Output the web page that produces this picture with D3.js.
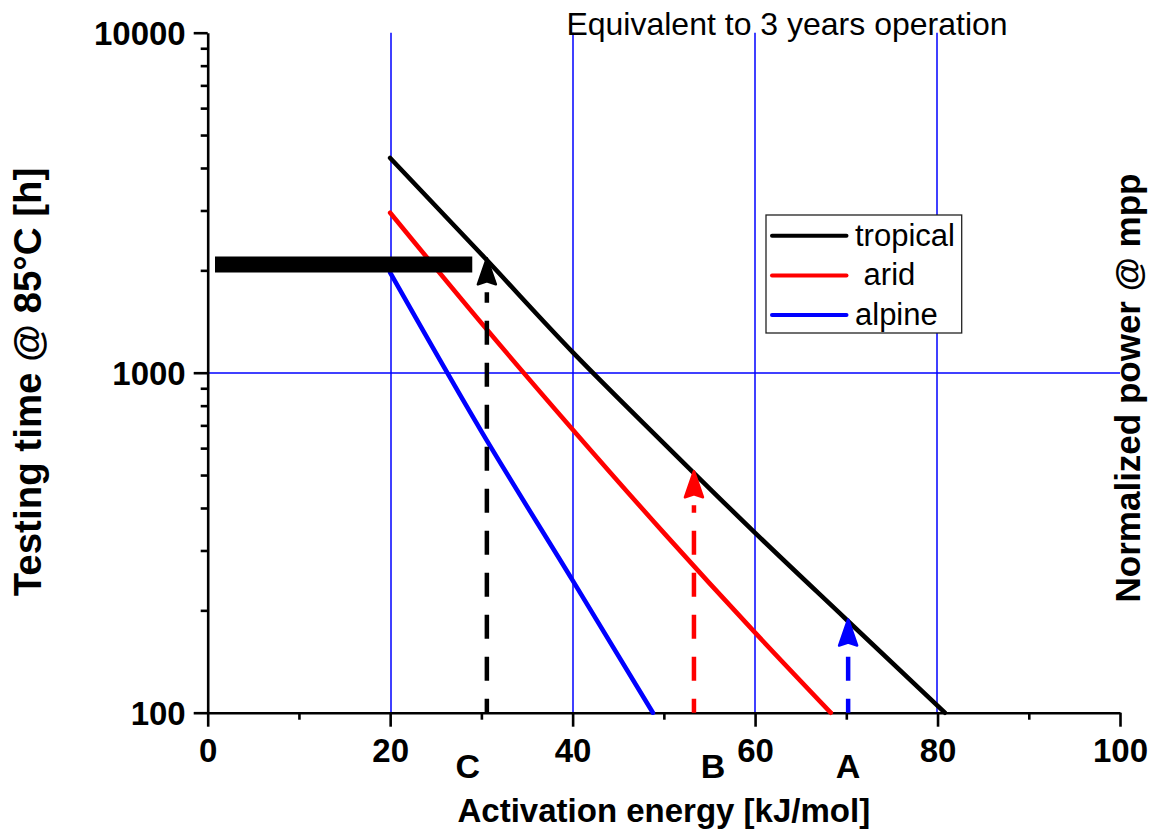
<!DOCTYPE html>
<html><head><meta charset="utf-8">
<script src="https://cdn.jsdelivr.net/npm/d3@7"></script>
<style>body{margin:0;background:#fff}svg{display:block}text{font-family:Arial,"Liberation Sans",sans-serif}</style>
</head><body><svg id="c" width="1151" height="832"></svg>
<script>
// ---- data ----
const tropicalE = [20, 30, 40, 50, 60, 70, 80.8];
const tropicalT = [4280, 2230, 1150, 620, 338, 188, 100];
const aridE = [20, 30, 40, 50, 60, 68.3];
const aridT = [2955, 1400, 681, 338, 172, 100];
const alpineE = [20, 30, 40, 48.8];
const alpineT = [1968, 672, 245, 100];
const seriesNames = ["tropical", " arid", "alpine"];
const seriesColors = ["#000000", "#ff0000", "#0000ff"];
const arrowE = [30.6, 53.3, 70.2];
const arrowT = [2170, 513, 188];
const arrowLabels = ["C", "B", "A"];
const arrowColors = ["#000000", "#ff0000", "#0000ff"];
const barE = [0.8, 29.0];
const barT = 2080;
const xTicks = [0, 20, 40, 60, 80, 100];
const xMinor = [10, 30, 50, 70, 90];
const yTicks = [100, 1000, 10000];
const xGrid = [20, 40, 60, 80];
const yGrid = [1000];
const xTitle = "Activation energy [kJ/mol]";
const yTitle = "Testing time @ 85°C [h]";
const y2Title = "Normalized power @ mpp";
const topNote = "Equivalent to 3 years operation";

// ---- scales ----
const svg = d3.select("#c");
const x = d3.scaleLinear().domain([0, 100]).range([207.7, 1120]);
const y = d3.scaleLog().domain([100, 10000]).range([712.7, 32.7]);
const snapOdd = v => 2 * Math.floor(v / 2) + 1;
const yMinor = [];
[100, 1000].forEach(d => { for (let k = 2; k <= 9; k++) yMinor.push(d * k); });

// grid
svg.append("g").selectAll("line").data(xGrid).join("line")
  .attr("x1", d => snapOdd(x(d))).attr("x2", d => snapOdd(x(d))).attr("y1", y(10000)).attr("y2", y(100))
  .attr("stroke", "#0000ff").attr("stroke-width", 1.5);
svg.append("g").selectAll("line").data(yGrid).join("line")
  .attr("x1", x(0)).attr("x2", x(100)).attr("y1", d => snapOdd(y(d))).attr("y2", d => snapOdd(y(d)))
  .attr("stroke", "#0000ff").attr("stroke-width", 1.5);

// axes
function styleAxis(g) {
  g.select(".domain").attr("stroke", "#000").attr("stroke-width", 2.6);
  g.selectAll(".tick line").attr("stroke", "#000").attr("stroke-width", 2.6);
  g.selectAll("text").attr("fill", "#000").attr("font-weight", "bold").attr("font-size", 33);
}
const gxMinor = svg.append("g").attr("transform", `translate(0,${y(100)})`)
  .call(d3.axisBottom(x).tickValues(xMinor).tickSize(7).tickFormat("").tickSizeOuter(0));
gxMinor.select(".domain").remove();
gxMinor.selectAll("line").attr("stroke", "#000").attr("stroke-width", 2.6);
const gx = svg.append("g").attr("transform", `translate(0,${y(100)})`)
  .call(d3.axisBottom(x).tickValues(xTicks).tickSize(14).tickSizeOuter(0).tickPadding(12));
styleAxis(gx);
gx.selectAll("text").attr("dy", "0.71em");

const gyMinor = svg.append("g").attr("transform", `translate(${x(0)},0)`)
  .call(d3.axisLeft(y).tickValues(yMinor).tickSize(7).tickFormat("").tickSizeOuter(0));
gyMinor.select(".domain").remove();
gyMinor.selectAll("line").attr("stroke", "#000").attr("stroke-width", 2.6);
const gy = svg.append("g").attr("transform", `translate(${x(0)},0)`)
  .call(d3.axisLeft(y).tickValues(yTicks).tickSize(14).tickSizeOuter(0).tickPadding(8).tickFormat(d3.format("d")));
styleAxis(gy);
gy.selectAll("text").attr("dy", "0.36em");

// curves
const line = d3.line().x(d => x(d[0])).y(d => y(d[1])).curve(d3.curveMonotoneX);
const series = [
  d3.zip(tropicalE, tropicalT),
  d3.zip(aridE, aridT),
  d3.zip(alpineE, alpineT)
];
svg.append("g").selectAll("path").data(series).join("path")
  .attr("d", line).attr("fill", "none")
  .attr("stroke", (d, i) => seriesColors[i]).attr("stroke-width", 4.6)
  .attr("stroke-linecap", "round");

// thick bar
svg.append("line").attr("x1", x(barE[0])).attr("x2", x(barE[1]))
  .attr("y1", y(barT)).attr("y2", y(barT))
  .attr("stroke", "#000").attr("stroke-width", 16);

// arrows
const headLen = 26, headW = 18;
arrowE.forEach((e, i) => {
  const ax = x(e), tip = y(arrowT[i]), base = y(100);
  svg.append("line").attr("x1", ax).attr("x2", ax).attr("y1", base).attr("y2", tip + headLen + 8)
    .attr("stroke", arrowColors[i]).attr("stroke-width", 4.5)
    .attr("stroke-dasharray", "24,18").attr("stroke-dashoffset", 10);
  svg.append("path")
    .attr("d", `M${ax},${tip} L${ax + headW / 2},${tip + headLen} L${ax},${tip + headLen - 3} L${ax - headW / 2},${tip + headLen} Z`)
    .attr("fill", arrowColors[i]).attr("stroke", arrowColors[i]).attr("stroke-width", 2.5).attr("stroke-linejoin", "round");
  svg.append("text").attr("x", ax - (i === 0 ? 19 : i === 1 ? -19 : 0)).attr("y", 778)
    .attr("text-anchor", "middle").attr("font-weight", "bold").attr("font-size", 34).text(arrowLabels[i]);
});

// legend
const lg = svg.append("g");
lg.append("rect").attr("x", 766).attr("y", 215).attr("width", 195.7).attr("height", 118)
  .attr("fill", "#fff").attr("stroke", "#222").attr("stroke-width", 1.3);
seriesNames.forEach((n, i) => {
  const ly = 235.7 + i * 39.7;
  lg.append("line").attr("x1", 772).attr("x2", 846.5).attr("y1", ly).attr("y2", ly)
    .attr("stroke", seriesColors[i]).attr("stroke-width", 4).attr("stroke-linecap", "round");
  lg.append("text").attr("x", 855).attr("y", ly + 10).attr("font-size", 31)
    .attr("xml:space", "preserve").style("white-space", "pre").text(n);
});

// texts
svg.append("text").attr("x", x(50)).attr("y", 822).attr("text-anchor", "middle")
  .attr("font-weight", "bold").attr("font-size", 33).text(xTitle);
svg.append("text").attr("transform", "translate(41,382) rotate(-90)").attr("text-anchor", "middle")
  .attr("font-weight", "bold").attr("font-size", 38.5).text(yTitle);
svg.append("text").attr("transform", "translate(1140,388) rotate(-90)").attr("text-anchor", "middle")
  .attr("font-weight", "bold").attr("font-size", 35).text(y2Title);
svg.append("text").attr("x", 787).attr("y", 35).attr("text-anchor", "middle")
  .attr("font-size", 32).text(topNote);
</script></body></html>
